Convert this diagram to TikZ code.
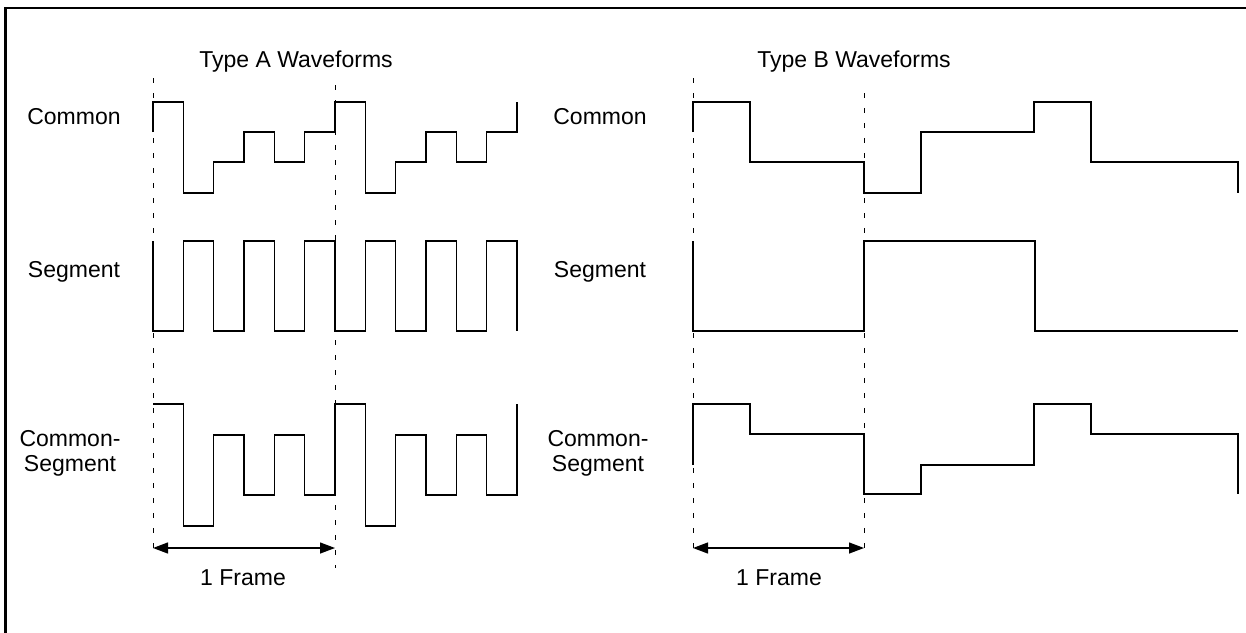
\documentclass[tikz,border=0pt]{standalone}
\usepackage{fontspec}
\setmainfont{Liberation Sans}
\usetikzlibrary{arrows.meta}
\begin{document}
\begin{tikzpicture}[x=1pt,y=-1pt,
  wave/.style={line width=1.3pt,line join=miter},
  guide/.style={line width=1pt,dash pattern=on 5pt off 10pt},
  span/.style={line width=1.3pt,{Triangle[length=15pt,width=11pt]}-{Triangle[length=15pt,width=11pt]}},
  lbl/.style={font=\fontsize{23}{25}\selectfont,align=center,inner sep=0pt}]
\useasboundingbox (0,0) rectangle (1246,632);
\clip (0,0) rectangle (1246,632);
\draw[line width=2.5pt] (5.5,8) rectangle (1260,650);
% titles
\node[lbl] (tA) at (296,62) {Type A Waveforms};
\node[lbl] (tB) at (854,62) {Type B Waveforms};
% row labels
\node[lbl] (cA) at (74,117) {Common};
\node[lbl] (sA) at (74,272) {Segment};
\node[lbl] (csA) at (70,453) {Common-\\Segment};
\node[lbl] (cB) at (600,117) {Common};
\node[lbl] (sB) at (600,272) {Segment};
\node[lbl] (csB) at (598,453) {Common-\\Segment};
% frame guides
\coordinate (a1t) at (153,78); \coordinate (a1b) at (153,557);
\coordinate (a2t) at (335,85); \coordinate (a2b) at (335,568);
\coordinate (b1t) at (693,78); \coordinate (b1b) at (693,557);
\coordinate (b2t) at (864,93); \coordinate (b2b) at (864,548);
\draw[guide] (a1t) -- (a1b);
\draw[guide] (a2t) -- (a2b);
\draw[guide] (b1t) -- (b1b);
\draw[guide] (b2t) -- (b2b);
\coordinate (fa1) at (153,548); \coordinate (fa2) at (335,548);
\coordinate (fb1) at (693,548); \coordinate (fb2) at (864,548);
\draw[span] (fa1) -- (fa2);
\draw[span] (fb1) -- (fb2);
\node[lbl] (fA) at (243,578) {1 Frame};
\node[lbl] (fB) at (779,578) {1 Frame};
% Type A waveforms
\draw[wave] (153,132) -- (153,102) -- (183.3,102) -- (183.3,193) -- (213.7,193) -- (213.7,162) -- (244,162) -- (244,132) -- (274.3,132) -- (274.3,162) -- (304.7,162) -- (304.7,132) -- (335,132) -- (335,102) -- (365.3,102) -- (365.3,193) -- (395.7,193) -- (395.7,162) -- (426,162) -- (426,132) -- (456.3,132) -- (456.3,162) -- (486.7,162) -- (486.7,132) -- (517,132) -- (517,102);
\draw[wave] (153,241) -- (153,331) -- (183.3,331) -- (183.3,241) -- (213.7,241) -- (213.7,331) -- (244,331) -- (244,241) -- (274.3,241) -- (274.3,331) -- (304.7,331) -- (304.7,241) -- (335,241) -- (335,331) -- (365.3,331) -- (365.3,241) -- (395.7,241) -- (395.7,331) -- (426,331) -- (426,241) -- (456.3,241) -- (456.3,331) -- (486.7,331) -- (486.7,241) -- (517,241) -- (517,331);
\draw[wave] (153,404) -- (183.3,404) -- (183.3,526) -- (213.7,526) -- (213.7,435) -- (244,435) -- (244,495) -- (274.3,495) -- (274.3,435) -- (304.7,435) -- (304.7,495) -- (335,495) -- (335,404) -- (365.3,404) -- (365.3,526) -- (395.7,526) -- (395.7,435) -- (426,435) -- (426,495) -- (456.3,495) -- (456.3,435) -- (486.7,435) -- (486.7,495) -- (517,495) -- (517,404);
% Type B waveforms
\draw[wave] (693,132) -- (693,102) -- (750,102) -- (750,162) -- (864,162) -- (864,193) -- (921,193) -- (921,132) -- (1034,132) -- (1034,102) -- (1091,102) -- (1091,162) -- (1238,162) -- (1238,193);
\draw[wave] (693,241) -- (693,331) -- (864,331) -- (864,241) -- (1035,241) -- (1035,331) -- (1238,331);
\draw[wave] (693,465) -- (693,404) -- (750,404) -- (750,434) -- (864,434) -- (864,494) -- (921,494) -- (921,465) -- (1034,465) -- (1034,404) -- (1091,404) -- (1091,434) -- (1238,434) -- (1238,494);
\end{tikzpicture}
\end{document}
